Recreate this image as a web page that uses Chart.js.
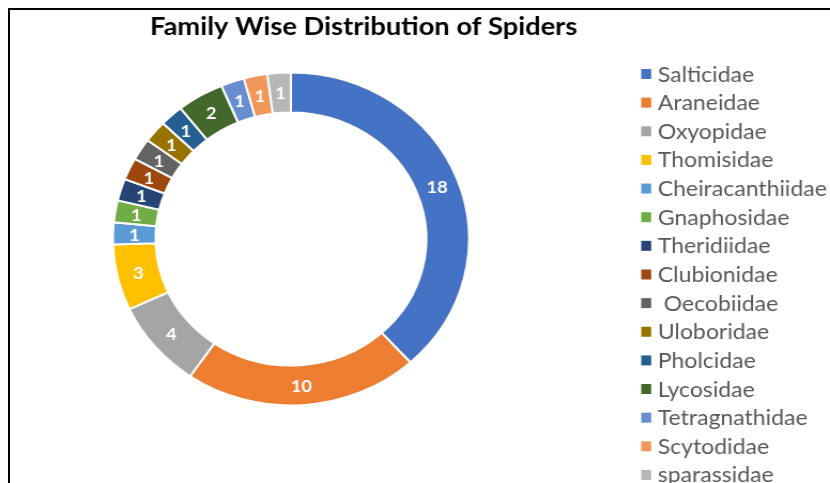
<!DOCTYPE html>
<html><head><meta charset="utf-8">
<script src="https://cdn.jsdelivr.net/npm/chart.js@4"></script>
<style>
html,body{margin:0;padding:0;background:#fff;overflow:hidden;width:830px;height:483px;}
#wrap{position:absolute;left:0;top:0;width:776px;height:483px;transform:scaleX(1.0696);transform-origin:0 0;}
#frame{position:absolute;left:8px;top:8px;width:840px;height:500px;border-left:2px solid #000;border-top:2px solid #000;}
</style></head><body>
<div id="frame"></div>
<div id="wrap"><canvas id="c"></canvas></div>
<script>
const chartTitle = 'Family Wise Distribution of Spiders';
const families = ['Salticidae','Araneidae','Oxyopidae','Thomisidae','Cheiracanthiidae','Gnaphosidae','Theridiidae','Clubionidae',' Oecobiidae','Uloboridae','Pholcidae','Lycosidae','Tetragnathidae','Scytodidae','sparassidae'];
const counts = [18,10,4,3,1,1,1,1,1,1,1,2,1,1,1];
const colors = ['#4472C4','#ED7D31','#A5A5A5','#FFC000','#5B9BD5','#70AD47','#264478','#9E480E','#636363','#997300','#255E91','#43682B','#698ED0','#F1975A','#B7B7B7'];

const overlay = {
  id: 'overlay',
  afterDatasetsDraw(chart) {
    const ctx = chart.ctx;
    const meta = chart.getDatasetMeta(0);
    ctx.save();
    ctx.fillStyle = '#fff';
    ctx.font = 'bold 17px Lato';
    ctx.textAlign = 'center';
    ctx.textBaseline = 'middle';
    meta.data.forEach((arc, i) => {
      const p = arc.tooltipPosition();
      ctx.fillText(String(counts[i]), p.x, p.y + 1);
    });
    ctx.fillStyle = '#000';
    ctx.font = 'bold 25.5px Lato';
    ctx.fillText(chartTitle, 340, 27);
    ctx.font = '21.5px Lato';
    ctx.textAlign = 'left';
    ctx.textBaseline = 'alphabetic';
    families.forEach((f, i) => {
      const y = 74 + i * 28.64;
      ctx.fillStyle = colors[i];
      ctx.fillRect(599.5, y - 5, 9.3, 10);
      ctx.fillStyle = '#595959';
      ctx.fillText(f, 615, y + 7.5);
    });
    ctx.restore();
  }
};

new Chart(document.getElementById('c'), {
  type: 'doughnut',
  data: {
    labels: families,
    datasets: [{
      data: counts,
      backgroundColor: colors,
      borderColor: '#fff',
      borderWidth: 2
    }]
  },
  options: {
    responsive: true,
    maintainAspectRatio: false,
    animation: false,
    cutout: '76%',
    layout: { padding: { left: 104.5, right: 336.5, top: 71.5, bottom: 76.5 } },
    plugins: { legend: { display: false }, title: { display: false }, tooltip: { enabled: false } }
  },
  plugins: [overlay]
});
</script>
</body></html>
